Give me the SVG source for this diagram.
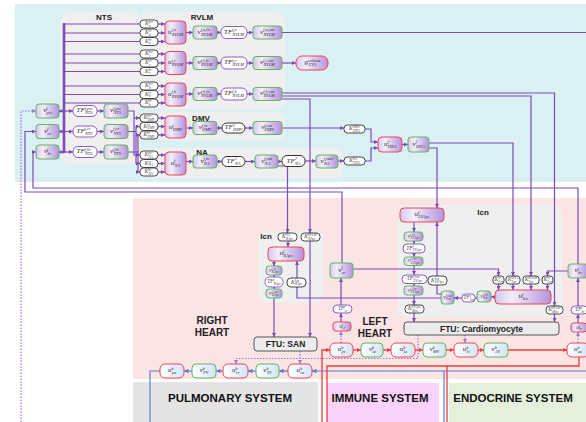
<svg xmlns="http://www.w3.org/2000/svg" width="586" height="422" viewBox="0 0 586 422">
<defs>
<linearGradient id="gp" x1="0" y1="0" x2="1" y2="0"><stop offset="0" stop-color="#d6c4ee"/><stop offset="0.3" stop-color="#f3eefa"/><stop offset="1" stop-color="#b592dc"/></linearGradient>
<linearGradient id="gb" x1="0" y1="0" x2="1" y2="0"><stop offset="0" stop-color="#ffffff"/><stop offset="1" stop-color="#d3e4f6"/></linearGradient>
<marker id="a" viewBox="0 0 6 6" refX="6" refY="3" markerWidth="4" markerHeight="4" orient="auto" markerUnits="userSpaceOnUse"><path d="M0,0 L6,3 L0,6 z" fill="#7b4bb8"/></marker>
<marker id="ad" viewBox="0 0 6 6" refX="6" refY="3" markerWidth="4" markerHeight="4" orient="auto" markerUnits="userSpaceOnUse"><path d="M0,0 L6,3 L0,6 z" fill="#9f76d6"/></marker>
<marker id="ar" viewBox="0 0 6 6" refX="6" refY="3" markerWidth="4.5" markerHeight="4.5" orient="auto" markerUnits="userSpaceOnUse"><path d="M0,0 L6,3 L0,6 z" fill="#ef3b3b"/></marker>
<marker id="ab" viewBox="0 0 6 6" refX="6" refY="3" markerWidth="4.5" markerHeight="4.5" orient="auto" markerUnits="userSpaceOnUse"><path d="M0,0 L6,3 L0,6 z" fill="#5b7bd0"/></marker>
</defs>
<style>
.vg{fill:url(#gp);stroke:#5cb85c;stroke-width:1}
.ur{fill:url(#gp);stroke:#ef4653;stroke-width:1}
.tf{fill:#fff;stroke:#8b5ec6;stroke-width:1}
.tk{fill:#fff;stroke:#333;stroke-width:1}
.kb{fill:#fff;stroke:#333;stroke-width:0.9}
.bu{fill:url(#gb);stroke:#ef4653;stroke-width:1}
.bv{fill:url(#gb);stroke:#5cb85c;stroke-width:1}
.ftu{fill:#ececec;stroke:#555;stroke-width:1}
.grp{fill:#efefef}
.m{font-family:"Liberation Serif",serif;font-style:italic;font-size:7px;fill:#2a2a2a}
.s{font-size:4.3px}
.mk{font-family:"Liberation Serif",serif;font-style:italic;font-size:5.5px;fill:#444}
.sk{font-size:3.4px}
.t{font-family:"Liberation Sans",Arial,sans-serif;font-weight:bold;font-size:8px;fill:#222;text-anchor:middle}
.big{font-family:"Liberation Sans",Arial,sans-serif;font-weight:bold;font-size:11.5px;fill:#111;text-anchor:middle}
.hh{font-family:"Liberation Sans",Arial,sans-serif;font-weight:bold;font-size:10px;fill:#222;text-anchor:middle}
.c{fill:none;stroke:#7b4bb8;stroke-width:1.2}
.cb{stroke-width:2.6}
.cd{fill:none;stroke:#9f76d6;stroke-width:1.2;stroke-dasharray:1.5 1.5}
.cr{fill:none;stroke:#ef3b3b;stroke-width:1.3}
.cu{fill:none;stroke:#5b7bd0;stroke-width:1.2}
</style>
<g id="background">
<rect x="15" y="4" width="571" height="178" fill="#dbf0f2"/>
<rect x="133" y="198" width="453" height="181" fill="#fbe4e4"/>
<rect x="133" y="382" width="185" height="40" fill="#e4e4e4"/>
<rect x="327" y="383" width="112" height="39" fill="#fad3fa"/>
<rect x="449" y="383" width="137" height="39" fill="#e5f0dc"/>
<rect class="grp" x="61" y="12" width="80" height="152" rx="9"/>
<rect class="grp" x="139" y="12" width="146" height="97" rx="9"/>
<rect class="grp" x="139" y="112" width="146" height="28" rx="7"/>
<rect class="grp" x="139" y="148" width="204" height="30" rx="7"/>
<rect class="grp" x="258" y="231" width="65" height="72" rx="7"/>
<rect class="grp" x="398" y="205" width="164" height="112" rx="9"/>
</g>
<g id="labels">
<text class="t" x="104" y="20">NTS</text>
<text class="t" x="202" y="20">RVLM</text>
<text class="t" x="201" y="121">DMV</text>
<text class="t" x="202" y="154.5">NA</text>
<text class="t" x="266" y="239">Icn</text>
<text class="t" x="483" y="215">Icn</text>
<text class="hh" x="212" y="323.5">RIGHT</text>
<text class="hh" x="212" y="336">HEART</text>
<text class="hh" x="375" y="324.5">LEFT</text>
<text class="hh" x="375" y="337">HEART</text>
<text class="big" x="230" y="401.5">PULMONARY SYSTEM</text>
<text class="big" x="380" y="401.5">IMMUNE SYSTEM</text>
<text class="big" x="513" y="401.5">ENDOCRINE SYSTEM</text>
</g>
<g id="connectors">
<path class="c cb" d="M64,23 V153 M59,111 H64 M59,131.5 H64 M59,152 H64"/>
<path class="c" d="M64,24 H140 M64,33 H140 M64,41.5 H140 M64,54 H140 M64,63 H140 M64,71.5 H140 M64,86 H140 M64,94.5 H140 M64,103 H140"/>
<path class="c" marker-end="url(#a)" d="M64,111 H73"/>
<path class="c" marker-end="url(#a)" d="M64,131.5 H73"/>
<path class="c" marker-end="url(#a)" d="M64,152 H73"/>
<path class="c" marker-end="url(#a)" d="M97,111 H104"/>
<path class="c" marker-end="url(#a)" d="M97,131.5 H104"/>
<path class="c" marker-end="url(#a)" d="M97,152 H104"/>
<path class="c" marker-end="url(#a)" d="M128,111 H134 V155 H140"/>
<path class="c" marker-end="url(#a)" d="M134,118 H140"/>
<path class="c" marker-end="url(#a)" d="M128,131.5 H136 V163.5 H140"/>
<path class="c" marker-end="url(#a)" d="M136,131.5 V126.5 H140"/>
<path class="c" marker-end="url(#a)" d="M128,152 H138 V172 H140"/>
<path class="c" marker-end="url(#a)" d="M138,152 V135 H140"/>
<path class="c" marker-end="url(#a)" d="M158,24 H165"/>
<path class="c" marker-end="url(#a)" d="M158,33 H165"/>
<path class="c" marker-end="url(#a)" d="M158,41.5 H165"/>
<path class="c" marker-end="url(#a)" d="M158,54 H165"/>
<path class="c" marker-end="url(#a)" d="M158,63 H165"/>
<path class="c" marker-end="url(#a)" d="M158,71.5 H165"/>
<path class="c" marker-end="url(#a)" d="M158,86 H165"/>
<path class="c" marker-end="url(#a)" d="M158,94.5 H165"/>
<path class="c" marker-end="url(#a)" d="M158,103 H165"/>
<path class="c" marker-end="url(#a)" d="M158,118 H165"/>
<path class="c" marker-end="url(#a)" d="M158,126.5 H165"/>
<path class="c" marker-end="url(#a)" d="M158,135 H165"/>
<path class="c" marker-end="url(#a)" d="M158,155 H165"/>
<path class="c" marker-end="url(#a)" d="M158,163.5 H165"/>
<path class="c" marker-end="url(#a)" d="M158,172 H165"/>
<path class="c" marker-end="url(#a)" d="M186,32.5 H193"/>
<path class="c" marker-end="url(#a)" d="M186,63 H193"/>
<path class="c" marker-end="url(#a)" d="M186,94 H193"/>
<path class="c" marker-end="url(#a)" d="M186,128 H193"/>
<path class="c" marker-end="url(#a)" d="M186,161.5 H193"/>
<path class="c" marker-end="url(#a)" d="M217,32.5 H221"/>
<path class="c" marker-end="url(#a)" d="M217,63 H221"/>
<path class="c" marker-end="url(#a)" d="M217,94 H221"/>
<path class="c" marker-end="url(#a)" d="M217,128 H222"/>
<path class="c" marker-end="url(#a)" d="M217,161.5 H222"/>
<path class="c" marker-end="url(#a)" d="M247,32.5 H253"/>
<path class="c" marker-end="url(#a)" d="M247,63 H253"/>
<path class="c" marker-end="url(#a)" d="M247,94 H253"/>
<path class="c" marker-end="url(#a)" d="M245,128 H253"/>
<path class="c" marker-end="url(#a)" d="M245,161.5 H255"/>
<path class="c" d="M282,32.5 H586"/>
<path class="c" marker-end="url(#a)" d="M282,63 H296"/>
<path class="c" marker-end="url(#a)" d="M282,93 H554.5 V306"/>
<path class="c" marker-end="url(#a)" d="M282,96 H531 V276"/>
<path class="c" marker-end="url(#a)" d="M282,99 H310 V233"/>
<path class="c" marker-end="url(#a)" d="M310,241 V337"/>
<path class="c" marker-end="url(#a)" d="M282,128 H344"/>
<path class="c" marker-end="url(#a)" d="M365,129 H371 V142 H378"/>
<path class="c" marker-end="url(#a)" d="M278,161.5 H282"/>
<path class="c" marker-end="url(#a)" d="M305,161 H316"/>
<path class="c" marker-end="url(#a)" d="M338,161 H344"/>
<path class="c" marker-end="url(#a)" d="M365,161 H371 V148 H378"/>
<path class="c" marker-end="url(#a)" d="M278,166 H287.5 V233"/>
<path class="c" marker-end="url(#a)" d="M402,144.5 H408"/>
<path class="c" marker-end="url(#a)" d="M429,143 H513 V276"/>
<path class="c" marker-end="url(#a)" d="M429,148 H437 V208"/>
<path class="c" marker-end="url(#a)" d="M578,264 V188 H33 V152 H36"/>
<path class="c" marker-end="url(#a)" d="M342,263 V192 H25 V131.5 H36"/>
<path class="cd" marker-end="url(#ad)" d="M21,422 V111 H36"/>
<path class="c" marker-end="url(#a)" d="M288,241 V247"/>
<path class="c" marker-end="url(#a)" d="M274,261 V266"/>
<path class="c" marker-end="url(#a)" d="M274,275 V277"/>
<path class="c" marker-end="url(#a)" d="M274,287 V289"/>
<path class="c" marker-end="url(#a)" d="M274,298 V337"/>
<path class="c" marker-end="url(#a)" d="M441,298 H297 V261"/>
<path class="c" marker-end="url(#a)" d="M353,269 H498.5 V276"/>
<path class="c" marker-end="url(#a)" d="M568,271 H547.5 V276"/>
<path class="c" marker-end="url(#a)" d="M498.5,284 V290"/>
<path class="c" marker-end="url(#a)" d="M513,284 V290"/>
<path class="c" marker-end="url(#a)" d="M531,284 V290"/>
<path class="c" marker-end="url(#a)" d="M547.5,284 V290"/>
<path class="c" marker-end="url(#a)" d="M495,297 H491"/>
<path class="c" marker-end="url(#a)" d="M477,298 H475"/>
<path class="c" marker-end="url(#a)" d="M462,298 H454"/>
<path class="c" marker-end="url(#a)" d="M441,294 H437 V222"/>
<path class="c" marker-end="url(#a)" d="M414,222 V232"/>
<path class="c" marker-end="url(#a)" d="M414,241 V244"/>
<path class="c" marker-end="url(#a)" d="M414,253 V257"/>
<path class="c" marker-end="url(#a)" d="M414,265.5 V275"/>
<path class="c" marker-end="url(#a)" d="M414,283.5 V286"/>
<path class="c" marker-end="url(#a)" d="M414,295 V305"/>
<path class="c" marker-end="url(#a)" d="M414,313 V322"/>
<path class="c" marker-end="url(#a)" d="M554.5,314 V322"/>
<path class="c" marker-end="url(#a)" d="M578,323 V314"/>
<path class="c" marker-end="url(#a)" d="M578,306 V278"/>
<path class="c" marker-end="url(#a)" d="M341,322 V313"/>
<path class="c" marker-end="url(#a)" d="M341,305 V278"/>
<path class="cd" marker-end="url(#ad)" d="M578,343 V332"/>
<path class="cd" marker-end="url(#ad)" d="M341,343 V331"/>
<path class="cd" marker-end="url(#ad)" d="M300,351 V364"/>
<path class="cd" marker-end="url(#ad)" d="M418,335 V358.5 H236 V364"/>
<path class="cd" marker-end="url(#ad)" d="M465,335 V343"/>
<path class="cr" marker-end="url(#ar)" d="M353,350 H361"/>
<path class="cr" marker-end="url(#ar)" d="M383,350 H391"/>
<path class="cr" marker-end="url(#ar)" d="M415,350 H423"/>
<path class="cr" marker-end="url(#ar)" d="M446,350 H454"/>
<path class="cr" marker-end="url(#ar)" d="M478,350 H484"/>
<path class="cr" marker-end="url(#ar)" d="M508,350 H567"/>
<path class="cr" marker-end="url(#ar)" d="M322,422 V350 H330"/>
<path class="cr" d="M327,422 V366 H579 V357"/>
<path class="cr" d="M447,366 V422"/>
<path class="cu" marker-end="url(#ab)" d="M586,371 H312"/>
<path class="cu" marker-end="url(#ab)" d="M288,371 H279"/>
<path class="cu" marker-end="url(#ab)" d="M256,371 H248"/>
<path class="cu" marker-end="url(#ab)" d="M223,371 H216"/>
<path class="cu" marker-end="url(#ab)" d="M192,371 H184"/>
<path class="cu" d="M160,371 H150 V422"/>
<path class="cu" d="M444,371 V422"/>
</g>
<g id="nts-nodes">
<g id="v_psr"><rect class="vg" x="36" y="104" width="23" height="14" rx="3"/><text class="m" x="43.2" y="112.3">v<tspan class="s" dy="-2.6">f</tspan><tspan class="s" x="46.6" dy="4.6">psr</tspan></text></g>
<g id="v_cr"><rect class="vg" x="36" y="124.5" width="23" height="14" rx="3"/><text class="m" x="44.2" y="132.8">v<tspan class="s" dy="-2.6">f</tspan><tspan class="s" x="47.6" dy="4.6">cr</tspan></text></g>
<g id="v_br"><rect class="vg" x="36" y="145" width="23" height="14" rx="3"/><text class="m" x="44" y="153.3">v<tspan class="s" dy="-2.6">f</tspan><tspan class="s" x="47.4" dy="4.6">br</tspan></text></g>
<g id="tf_nts_psr"><rect class="tf" x="73" y="105.5" width="24" height="11" rx="5"/><text class="m" x="76.6" y="112.3">TF<tspan class="s" dy="-2.6">f,psr</tspan><tspan class="s" x="85" dy="4.6">NTS</tspan></text></g>
<g id="tf_nts_cr"><rect class="tf" x="73" y="126" width="24" height="11" rx="5"/><text class="m" x="76.6" y="132.8">TF<tspan class="s" dy="-2.6">f,cr</tspan><tspan class="s" x="85" dy="4.6">NTS</tspan></text></g>
<g id="tf_nts_br"><rect class="tf" x="73" y="146.5" width="24" height="11" rx="5"/><text class="m" x="76.6" y="153.3">TF<tspan class="s" dy="-2.6">f,br</tspan><tspan class="s" x="85" dy="4.6">NTS</tspan></text></g>
<g id="v_nts_psr"><rect class="vg" x="104" y="104" width="24" height="14" rx="3"/><text class="m" x="110.1" y="112.3">v<tspan class="s" dy="-2.6">f,psr</tspan><tspan class="s" x="113.5" dy="4.6">NTS</tspan></text></g>
<g id="v_nts_cr"><rect class="vg" x="104" y="124.5" width="24" height="14" rx="3"/><text class="m" x="110.1" y="132.8">v<tspan class="s" dy="-2.6">f,cr</tspan><tspan class="s" x="113.5" dy="4.6">NTS</tspan></text></g>
<g id="v_nts_br"><rect class="vg" x="104" y="145" width="24" height="14" rx="3"/><text class="m" x="110.1" y="153.3">v<tspan class="s" dy="-2.6">f,br</tspan><tspan class="s" x="113.5" dy="4.6">NTS</tspan></text></g>
</g>
<g id="k-nodes">
<g id="k_a_psr"><rect class="kb" x="140" y="20" width="18" height="8" rx="3.5"/><text class="mk" x="145" y="25">K<tspan class="sk" dy="-2">psr</tspan><tspan class="sk" x="149" dy="3.6">α</tspan></text></g>
<g id="k_a_cr"><rect class="kb" x="140" y="29" width="18" height="8" rx="3.5"/><text class="mk" x="145" y="34">K<tspan class="sk" dy="-2">cr</tspan><tspan class="sk" x="149" dy="3.6">α</tspan></text></g>
<g id="k_a_br"><rect class="kb" x="140" y="37.5" width="18" height="8" rx="3.5"/><text class="mk" x="145" y="42.5">K<tspan class="sk" dy="-2">br</tspan><tspan class="sk" x="149" dy="3.6">α</tspan></text></g>
<g id="k_v_psr"><rect class="kb" x="140" y="50" width="18" height="8" rx="3.5"/><text class="mk" x="145" y="55">K<tspan class="sk" dy="-2">psr</tspan><tspan class="sk" x="149" dy="3.6">v</tspan></text></g>
<g id="k_v_cr"><rect class="kb" x="140" y="59" width="18" height="8" rx="3.5"/><text class="mk" x="145" y="64">K<tspan class="sk" dy="-2">cr</tspan><tspan class="sk" x="149" dy="3.6">v</tspan></text></g>
<g id="k_v_br"><rect class="kb" x="140" y="67.5" width="18" height="8" rx="3.5"/><text class="mk" x="145" y="72.5">K<tspan class="sk" dy="-2">br</tspan><tspan class="sk" x="149" dy="3.6">v</tspan></text></g>
<g id="k_h_psr"><rect class="kb" x="140" y="82" width="18" height="8" rx="3.5"/><text class="mk" x="145" y="87">K<tspan class="sk" dy="-2">psr</tspan><tspan class="sk" x="149" dy="3.6">h</tspan></text></g>
<g id="k_h_cr"><rect class="kb" x="140" y="90.5" width="18" height="8" rx="3.5"/><text class="mk" x="145" y="95.5">K<tspan class="sk" dy="-2">cr</tspan><tspan class="sk" x="149" dy="3.6">h</tspan></text></g>
<g id="k_h_br"><rect class="kb" x="140" y="99" width="18" height="8" rx="3.5"/><text class="mk" x="145" y="104">K<tspan class="sk" dy="-2">br</tspan><tspan class="sk" x="149" dy="3.6">h</tspan></text></g>
<g id="k_dmv_psr"><rect class="kb" x="140" y="114" width="18" height="8" rx="3.5"/><text class="mk" x="143.5" y="119">K<tspan class="sk" dy="-2">psr</tspan><tspan class="sk" x="147.5" dy="3.6">DMV</tspan></text></g>
<g id="k_dmv_cr"><rect class="kb" x="140" y="122.5" width="18" height="8" rx="3.5"/><text class="mk" x="143.5" y="127.5">K<tspan class="sk" dy="-2">cr</tspan><tspan class="sk" x="147.5" dy="3.6">DMV</tspan></text></g>
<g id="k_dmv_br"><rect class="kb" x="140" y="131" width="18" height="8" rx="3.5"/><text class="mk" x="143.5" y="136">K<tspan class="sk" dy="-2">br</tspan><tspan class="sk" x="147.5" dy="3.6">DMV</tspan></text></g>
<g id="k_na_psr"><rect class="kb" x="140" y="151" width="18" height="8" rx="3.5"/><text class="mk" x="144.5" y="156">K<tspan class="sk" dy="-2">psr</tspan><tspan class="sk" x="148.5" dy="3.6">NA</tspan></text></g>
<g id="k_na_cr"><rect class="kb" x="140" y="159.5" width="18" height="8" rx="3.5"/><text class="mk" x="144.5" y="164.5">K<tspan class="sk" dy="-2">cr</tspan><tspan class="sk" x="148.5" dy="3.6">NA</tspan></text></g>
<g id="k_na_br"><rect class="kb" x="140" y="168" width="18" height="8" rx="3.5"/><text class="mk" x="144.5" y="173">K<tspan class="sk" dy="-2">br</tspan><tspan class="sk" x="148.5" dy="3.6">NA</tspan></text></g>
</g>
<g id="rvlm-nodes">
<g id="u_rvlm_a"><rect class="ur" x="165" y="21" width="21" height="23" rx="4"/><text class="m" x="168" y="33.8">u<tspan class="s" dy="-2.6">f,α</tspan><tspan class="s" x="171.8" dy="4.6">RVLM</tspan></text></g>
<g id="v_rvlm_a_in"><rect class="vg" x="193" y="26" width="24" height="13" rx="3"/><text class="m" x="197.6" y="33.8">v<tspan class="s" dy="-2.6">f,α,in</tspan><tspan class="s" x="201" dy="4.6">RVLM</tspan></text></g>
<g id="tf_rvlm_a"><rect class="tf" x="221" y="26.5" width="26" height="12" rx="5"/><text class="m" x="224.1" y="33.8">TF<tspan class="s" dy="-2.6">f,α</tspan><tspan class="s" x="232.6" dy="4.6">RVLM</tspan></text></g>
<g id="v_rvlm_a_out"><rect class="vg" x="253" y="26" width="29" height="13" rx="3"/><text class="m" x="260.1" y="33.8">v<tspan class="s" dy="-2.6">f,α,out</tspan><tspan class="s" x="263.5" dy="4.6">RVLM</tspan></text></g>
<g id="u_rvlm_v"><rect class="ur" x="165" y="51.5" width="21" height="23" rx="4"/><text class="m" x="168" y="64.3">u<tspan class="s" dy="-2.6">f,v</tspan><tspan class="s" x="171.8" dy="4.6">RVLM</tspan></text></g>
<g id="v_rvlm_v_in"><rect class="vg" x="193" y="56.5" width="24" height="13" rx="3"/><text class="m" x="197.6" y="64.3">v<tspan class="s" dy="-2.6">f,v,in</tspan><tspan class="s" x="201" dy="4.6">RVLM</tspan></text></g>
<g id="tf_rvlm_v"><rect class="tf" x="221" y="57" width="26" height="12" rx="5"/><text class="m" x="224.1" y="64.3">TF<tspan class="s" dy="-2.6">f,v</tspan><tspan class="s" x="232.6" dy="4.6">RVLM</tspan></text></g>
<g id="v_rvlm_v_out"><rect class="vg" x="253" y="56.5" width="29" height="13" rx="3"/><text class="m" x="260.1" y="64.3">v<tspan class="s" dy="-2.6">f,v,out</tspan><tspan class="s" x="263.5" dy="4.6">RVLM</tspan></text></g>
<g id="g_cvs"><rect class="ur" x="296" y="56" width="32" height="14" rx="6"/><text class="m" x="304.6" y="64.3">g<tspan class="s" dy="-2.6">volume</tspan><tspan class="s" x="308.4" dy="4.6">CVS</tspan></text></g>
<g id="u_rvlm_h"><rect class="ur" x="165" y="83" width="21" height="23" rx="4"/><text class="m" x="168" y="95.8">u<tspan class="s" dy="-2.6">f,h</tspan><tspan class="s" x="171.8" dy="4.6">RVLM</tspan></text></g>
<g id="v_rvlm_h_in"><rect class="vg" x="193" y="87.5" width="24" height="13" rx="3"/><text class="m" x="197.6" y="95.3">v<tspan class="s" dy="-2.6">f,h,in</tspan><tspan class="s" x="201" dy="4.6">RVLM</tspan></text></g>
<g id="tf_rvlm_h"><rect class="tf" x="221" y="88" width="26" height="12" rx="5"/><text class="m" x="224.1" y="95.3">TF<tspan class="s" dy="-2.6">f,h</tspan><tspan class="s" x="232.6" dy="4.6">RVLM</tspan></text></g>
<g id="v_rvlm_h_out"><rect class="vg" x="253" y="87.5" width="29" height="13" rx="3"/><text class="m" x="260.1" y="95.3">v<tspan class="s" dy="-2.6">f,h,out</tspan><tspan class="s" x="263.5" dy="4.6">RVLM</tspan></text></g>
</g>
<g id="dmv-na-nodes">
<g id="u_dmv"><rect class="ur" x="165" y="116" width="21" height="22" rx="4"/><text class="m" x="169" y="129.3">u<tspan class="s" dy="-2.6">f</tspan><tspan class="s" x="172.8" dy="4.6">DMV</tspan></text></g>
<g id="v_dmv_in"><rect class="vg" x="193" y="121.5" width="24" height="13" rx="3"/><text class="m" x="198.7" y="129.3">v<tspan class="s" dy="-2.6">f,in</tspan><tspan class="s" x="202.1" dy="4.6">DMV</tspan></text></g>
<g id="tf_dmv"><rect class="tk" x="222" y="123" width="23" height="10" rx="5"/><text class="m" x="224.6" y="129.3">TF<tspan class="s" dy="-2.6">1</tspan><tspan class="s" x="233.1" dy="4.6">DMV</tspan></text></g>
<g id="v_dmv_out"><rect class="vg" x="253" y="121.5" width="29" height="13" rx="3"/><text class="m" x="261.2" y="129.3">v<tspan class="s" dy="-2.6">f,out</tspan><tspan class="s" x="264.6" dy="4.6">DMV</tspan></text></g>
<g id="u_na"><rect class="ur" x="165" y="152" width="21" height="23" rx="4"/><text class="m" x="170.8" y="164.8">u<tspan class="s" dy="-2.6">f</tspan><tspan class="s" x="174.6" dy="4.6">NA</tspan></text></g>
<g id="v_na_in"><rect class="vg" x="193" y="155" width="24" height="13" rx="3"/><text class="m" x="200.4" y="162.8">v<tspan class="s" dy="-2.6">f,in</tspan><tspan class="s" x="203.8" dy="4.6">NA</tspan></text></g>
<g id="tf_na1"><rect class="tk" x="222" y="156.5" width="23" height="10" rx="5"/><text class="m" x="226.5" y="162.8">TF<tspan class="s" dy="-2.6">1</tspan><tspan class="s" x="235" dy="4.6">NA</tspan></text></g>
<g id="v_na_out"><rect class="vg" x="255" y="155" width="23" height="13" rx="3"/><text class="m" x="261.2" y="162.8">v<tspan class="s" dy="-2.6">f,out</tspan><tspan class="s" x="264.6" dy="4.6">NA</tspan></text></g>
<g id="tf_na2"><rect class="tk" x="282" y="155.5" width="23" height="11" rx="5"/><text class="m" x="286.5" y="162.8">TF<tspan class="s" dy="-2.6">2</tspan><tspan class="s" x="295" dy="4.6">NA</tspan></text></g>
<g id="v_na_out2"><rect class="vg" x="316" y="155" width="22" height="13" rx="3"/><text class="m" x="320.6" y="162.8">v<tspan class="s" dy="-2.6">f,out2</tspan><tspan class="s" x="324" dy="4.6">NA</tspan></text></g>
<g id="k_dmv_dna"><rect class="kb" x="344" y="125" width="21" height="8" rx="3.5"/><text class="mk" x="349" y="130">K<tspan class="sk" dy="-2">DMV</tspan><tspan class="sk" x="353" dy="3.6">DNA</tspan></text></g>
<g id="k_na_dna"><rect class="kb" x="344" y="157" width="21" height="8" rx="3.5"/><text class="mk" x="349.2" y="162">K<tspan class="sk" dy="-2">NA</tspan><tspan class="sk" x="353.2" dy="3.6">DNA</tspan></text></g>
<g id="u_dna"><rect class="ur" x="378" y="137" width="24" height="15" rx="4"/><text class="m" x="383.9" y="145.8">u<tspan class="s" dy="-2.6">f</tspan><tspan class="s" x="387.7" dy="4.6">DNA</tspan></text></g>
<g id="v_dna"><rect class="vg" x="408" y="137" width="21" height="15" rx="3"/><text class="m" x="412.6" y="145.8">v<tspan class="s" dy="-2.6">f</tspan><tspan class="s" x="416" dy="4.6">DNA</tspan></text></g>
</g>
<g id="right-heart-nodes">
<g id="k_na_raps"><rect class="kb" x="278" y="233" width="19" height="8" rx="3.5"/><text class="mk" x="281.9" y="238">K<tspan class="sk" dy="-2">NA</tspan><tspan class="sk" x="285.9" dy="3.6">RAps</tspan></text></g>
<g id="k_rvlm_raps"><rect class="kb" x="301" y="233" width="19" height="8" rx="3.5"/><text class="mk" x="304.2" y="238">K<tspan class="sk" dy="-2">RVLM</tspan><tspan class="sk" x="308.2" dy="3.6">RAps</tspan></text></g>
<g id="u_raps"><rect class="ur" x="268" y="247" width="36" height="14" rx="4"/><text class="m" x="279.5" y="255.3">u<tspan class="s" dy="-2.6">f</tspan><tspan class="s" x="283.3" dy="4.6">RAps</tspan></text></g>
<g id="v_raps_in"><rect class="vg" x="266" y="266" width="16" height="9" rx="3"/><text class="mk" x="269" y="271.5">v<tspan class="sk" dy="-2">f,in</tspan><tspan class="sk" x="271.7" dy="3.6">RAps</tspan></text></g>
<g id="tf_raps"><rect class="tf" x="265" y="277" width="18" height="10" rx="4.5"/><text class="mk" x="267" y="283">TF<tspan class="sk" dy="-2">f</tspan><tspan class="sk" x="273.7" dy="3.6">RAps</tspan></text></g>
<g id="v_raps_out"><rect class="vg" x="266" y="289" width="16" height="9" rx="3"/><text class="mk" x="269" y="294.5">v<tspan class="sk" dy="-2">f,out</tspan><tspan class="sk" x="271.7" dy="3.6">RAps</tspan></text></g>
<g id="k_icn_raps"><rect class="kb" x="287" y="278" width="19" height="9" rx="4"/><text class="mk" x="290.9" y="283.5">K<tspan class="sk" dy="-2">Icn</tspan><tspan class="sk" x="294.9" dy="3.6">RAps</tspan></text></g>
<g id="ftu_san"><rect class="ftu" x="254" y="337" width="63" height="14" rx="3"/><text class="t" x="285.5" y="347" style="font-size:8.5px">FTU: SAN</text></g>
</g>
<g id="left-heart-nodes">
<g id="v_cr_h"><rect class="vg" x="330" y="263" width="23" height="15" rx="3"/><text class="m" x="338.3" y="271.8">v<tspan class="s" dy="-2.6">f</tspan><tspan class="s" x="341.7" dy="4.6">cr</tspan></text></g>
<g id="tf_cr"><rect class="tf" x="333" y="305" width="19" height="8" rx="4"/><text class="mk" x="338" y="310">TF<tspan class="sk" dy="-2">f</tspan><tspan class="sk" x="344.6" dy="3.6">cr</tspan></text></g>
<g id="u_cr"><rect class="ur" x="333" y="322" width="18" height="9" rx="3"/><text class="mk" x="339.3" y="327.5">u<tspan class="sk" dy="-2">f</tspan><tspan class="sk" x="342.4" dy="3.6">cr</tspan></text></g>
<g id="u_lvaps"><rect class="ur" x="400" y="208" width="44" height="14" rx="4"/><text class="m" x="414.5" y="216.3">u<tspan class="s" dy="-2.6">f</tspan><tspan class="s" x="418.3" dy="4.6">LVAps</tspan></text></g>
<g id="v_lvaps_in"><rect class="vg" x="404" y="232" width="19" height="9" rx="3"/><text class="mk" x="407.8" y="237.5">v<tspan class="sk" dy="-2">f,in</tspan><tspan class="sk" x="410.5" dy="3.6">LVAps</tspan></text></g>
<g id="tf_lvaps"><rect class="tf" x="403" y="244" width="22" height="9" rx="4"/><text class="mk" x="406.3" y="249.5">TF<tspan class="sk" dy="-2">f</tspan><tspan class="sk" x="413" dy="3.6">LVAps</tspan></text></g>
<g id="v_lvaps_out"><rect class="vg" x="404" y="257" width="19" height="8.5" rx="3"/><text class="mk" x="407.8" y="262.2">v<tspan class="sk" dy="-2">f,out</tspan><tspan class="sk" x="410.5" dy="3.6">LVAps</tspan></text></g>
<g id="tf_lvaps_icn"><rect class="tf" x="402" y="275" width="25" height="8.5" rx="4"/><text class="mk" x="406.8" y="280.2">TF<tspan class="sk" dy="-2">f,Icn</tspan><tspan class="sk" x="413.5" dy="3.6">LVAps</tspan></text></g>
<g id="v_lvaps_icn"><rect class="vg" x="404" y="286" width="19" height="9" rx="3"/><text class="mk" x="407.8" y="291.5">v<tspan class="sk" dy="-2">f,Icn</tspan><tspan class="sk" x="410.5" dy="3.6">LVAps</tspan></text></g>
<g id="k_icn_lvaps"><rect class="kb" x="428" y="276" width="19" height="9" rx="4"/><text class="mk" x="431.1" y="281.5">K<tspan class="sk" dy="-2">Icn</tspan><tspan class="sk" x="435.1" dy="3.6">LVAps</tspan></text></g>
<g id="k_lvaps_myo"><rect class="kb" x="405" y="305" width="19" height="8" rx="3.5"/><text class="mk" x="408.1" y="310">K<tspan class="sk" dy="-2">LVAps</tspan><tspan class="sk" x="412.1" dy="3.6">Myo</tspan></text></g>
<g id="v_icn_out"><rect class="vg" x="441" y="291" width="13" height="13" rx="3"/><text class="mk" x="443.3" y="298.5">v<tspan class="sk" dy="-2">f,out</tspan><tspan class="sk" x="446" dy="3.6">Icn</tspan></text></g>
<g id="tf_icn"><rect class="tf" x="462" y="294" width="13" height="8" rx="3.5"/><text class="mk" x="463.3" y="299">TF<tspan class="sk" dy="-2">f</tspan><tspan class="sk" x="469.9" dy="3.6">Icn</tspan></text></g>
<g id="v_icn_in"><rect class="vg" x="477" y="291" width="14" height="11" rx="3"/><text class="mk" x="480.5" y="297.5">v<tspan class="sk" dy="-2">f,in</tspan><tspan class="sk" x="483.2" dy="3.6">Icn</tspan></text></g>
<g id="u_icn"><rect class="ur" x="495" y="290" width="56" height="14" rx="4"/><text class="m" x="518.6" y="298.3">u<tspan class="s" dy="-2.6">f</tspan><tspan class="s" x="522.4" dy="4.6">Icn</tspan></text></g>
<g id="k_cr_icn"><rect class="kb" x="493" y="276" width="11" height="8" rx="3"/><text class="mk" x="494.6" y="281">K<tspan class="sk" dy="-2">cr</tspan><tspan class="sk" x="498.5" dy="3.6">Icn</tspan></text></g>
<g id="k_dna_icn"><rect class="kb" x="506" y="276" width="14" height="8" rx="3"/><text class="mk" x="507.7" y="281">K<tspan class="sk" dy="-2">DNA</tspan><tspan class="sk" x="511.7" dy="3.6">Icn</tspan></text></g>
<g id="k_rvlm_icn"><rect class="kb" x="523" y="276" width="16" height="8" rx="3"/><text class="mk" x="524.7" y="281">K<tspan class="sk" dy="-2">RVLM</tspan><tspan class="sk" x="528.7" dy="3.6">Icn</tspan></text></g>
<g id="k_br_icn"><rect class="kb" x="542" y="276" width="11" height="8" rx="3"/><text class="mk" x="543.6" y="281">K<tspan class="sk" dy="-2">br</tspan><tspan class="sk" x="547.5" dy="3.6">Icn</tspan></text></g>
<g id="k_rvlm_myo"><rect class="kb" x="546" y="306" width="17" height="8" rx="3.5"/><text class="mk" x="548.2" y="311">K<tspan class="sk" dy="-2">RVLM</tspan><tspan class="sk" x="552.2" dy="3.6">Myo</tspan></text></g>
<g id="ftu_cardio"><rect class="ftu" x="404" y="322" width="155" height="13" rx="3"/><text class="t" x="481.5" y="331.7" style="font-size:8.5px">FTU: Cardiomyocyte</text></g>
<g id="v_br_h"><rect class="vg" x="568" y="264" width="20" height="14" rx="3"/><text class="m" x="574.6" y="272.3">v<tspan class="s" dy="-2.6">f</tspan><tspan class="s" x="578" dy="4.6">br</tspan></text></g>
<g id="tf_br"><rect class="tf" x="571" y="306" width="17" height="8" rx="4"/><text class="mk" x="574.9" y="311">TF<tspan class="sk" dy="-2">f</tspan><tspan class="sk" x="581.5" dy="3.6">br</tspan></text></g>
<g id="u_br"><rect class="ur" x="571" y="323" width="16" height="9" rx="3"/><text class="mk" x="576.2" y="328.5">u<tspan class="sk" dy="-2">f</tspan><tspan class="sk" x="579.2" dy="3.6">br</tspan></text></g>
</g>
<g id="blood-nodes">
<g id="u_pv"><rect class="bu" x="330" y="343" width="23" height="14" rx="5"/><text class="m" x="337.8" y="351.3">u<tspan class="s" dy="-2.6">b</tspan><tspan class="s" x="341.6" dy="4.6">pv</tspan></text></g>
<g id="v_la"><rect class="bv" x="361" y="343" width="22" height="14" rx="4"/><text class="m" x="368.9" y="351.3">v<tspan class="s" dy="-2.6">b</tspan><tspan class="s" x="372.3" dy="4.6">la</tspan></text></g>
<g id="u_la"><rect class="bu" x="391" y="343" width="24" height="14" rx="5"/><text class="m" x="399.7" y="351.3">u<tspan class="s" dy="-2.6">b</tspan><tspan class="s" x="403.5" dy="4.6">la</tspan></text></g>
<g id="v_mv"><rect class="bv" x="423" y="343" width="23" height="14" rx="4"/><text class="m" x="429.7" y="351.3">v<tspan class="s" dy="-2.6">b</tspan><tspan class="s" x="433.1" dy="4.6">MV</tspan></text></g>
<g id="u_lv"><rect class="bu" x="454" y="343" width="24" height="14" rx="5"/><text class="m" x="462.7" y="351.3">u<tspan class="s" dy="-2.6">b</tspan><tspan class="s" x="466.5" dy="4.6">lv</tspan></text></g>
<g id="v_av"><rect class="bv" x="484" y="343" width="24" height="14" rx="4"/><text class="m" x="491.6" y="351.3">v<tspan class="s" dy="-2.6">b</tspan><tspan class="s" x="495" dy="4.6">AV</tspan></text></g>
<g id="u_ao"><rect class="bu" x="567" y="343" width="22" height="14" rx="5"/><text class="m" x="574.1" y="351.3">u<tspan class="s" dy="-2.6">b</tspan><tspan class="s" x="577.9" dy="4.6">ao</tspan></text></g>
<g id="u_pa"><rect class="bu" x="160" y="364" width="24" height="14" rx="5"/><text class="m" x="168.1" y="372.3">u<tspan class="s" dy="-2.6">b</tspan><tspan class="s" x="171.9" dy="4.6">pa</tspan></text></g>
<g id="v_pv"><rect class="bv" x="192" y="364" width="24" height="14" rx="4"/><text class="m" x="199.7" y="372.3">v<tspan class="s" dy="-2.6">b</tspan><tspan class="s" x="203.1" dy="4.6">PV</tspan></text></g>
<g id="u_rv"><rect class="bu" x="223" y="364" width="25" height="14" rx="5"/><text class="m" x="232" y="372.3">u<tspan class="s" dy="-2.6">b</tspan><tspan class="s" x="235.8" dy="4.6">rv</tspan></text></g>
<g id="v_tv"><rect class="bv" x="256" y="364" width="23" height="14" rx="4"/><text class="m" x="263.3" y="372.3">v<tspan class="s" dy="-2.6">b</tspan><tspan class="s" x="266.7" dy="4.6">TV</tspan></text></g>
<g id="u_ra"><rect class="bu" x="288" y="364" width="24" height="14" rx="5"/><text class="m" x="296.5" y="372.3">u<tspan class="s" dy="-2.6">b</tspan><tspan class="s" x="300.3" dy="4.6">ra</tspan></text></g>
</g>
</svg>
